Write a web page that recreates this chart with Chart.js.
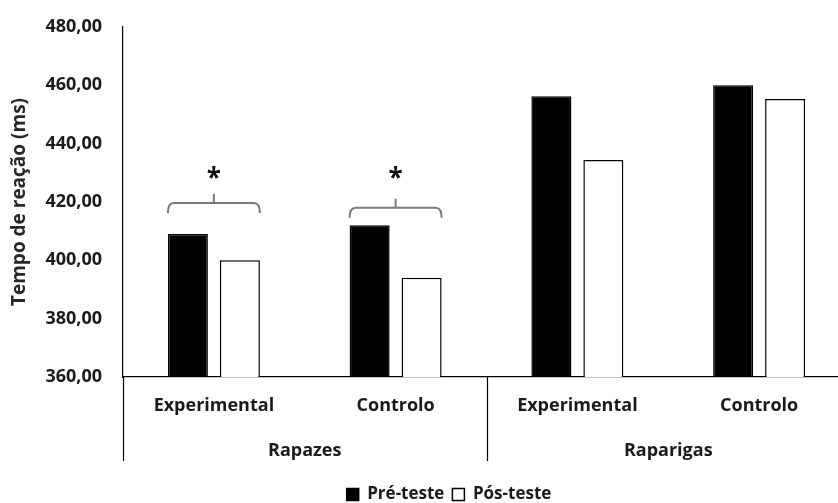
<!DOCTYPE html>
<html>
<head>
<meta charset="utf-8">
<script src="https://cdn.jsdelivr.net/npm/chart.js@4.4.1/dist/chart.umd.min.js"></script>
<style>
  html, body { margin: 0; padding: 0; overflow: hidden; background: #fff; }
  #wrap { width: 850px; height: 503px; }
</style>
</head>
<body>
<div id="wrap"><canvas id="grafico"></canvas></div>
<script>
// dados
const categorias = ["Experimental", "Controlo", "Experimental", "Controlo"];
const grupos = ["Rapazes", "Raparigas"];
const preTeste = [409, 412, 456.3, 460];
const posTeste = [400, 394, 434.4, 455.3];
const yTicks = [360, 380, 400, 420, 440, 460, 480];

// chavetas de significância (índice da categoria, nível da chaveta, nível do asterisco)
const signifIndices = [0, 1];
const nivelChaveta = [419.7, 418];
const nivelAsterisco = [429.5, 429.5];

const fonte = "'Open Sans', 'Noto Sans', sans-serif";
const corTexto = "#1a1a1a";

const chaveta = {
  id: "chaveta",
  afterLayout(chart) {
    // legenda um pouco para a direita e para baixo, como no original
    const lg = chart.legend;
    lg.left += 24; lg.right += 24;
    lg.top += 10; lg.bottom += 10;
  },
  afterDraw(chart) {
    const { ctx, chartArea, scales } = chart;
    const x = scales.x, y = scales.y, x2 = scales.x2;
    ctx.save();

    // linhas separadoras do eixo em dois níveis
    const passo = x.getPixelForValue(1) - x.getPixelForValue(0);
    ctx.strokeStyle = "#000";
    ctx.lineWidth = 1.2;
    [0, 2, 4].forEach(i => {
      const px = Math.round(x.getPixelForValue(0) + (i - 0.5) * passo) + 0.5;
      ctx.beginPath();
      ctx.moveTo(px, chartArea.bottom);
      ctx.lineTo(px, x2.bottom - 7);
      ctx.stroke();
    });

    // chavetas e asteriscos
    const m0 = chart.getDatasetMeta(0), m1 = chart.getDatasetMeta(1);
    signifIndices.forEach((idx, k) => {
      const b0 = m0.data[idx], b1 = m1.data[idx];
      const x0 = b0.x - b0.width / 2, x1 = b1.x + b1.width / 2;
      const xm = (x0 + x1) / 2;
      const yb = y.getPixelForValue(nivelChaveta[k]);
      ctx.strokeStyle = "#7a7a7a";
      ctx.lineWidth = 2;
      ctx.beginPath();
      ctx.moveTo(x0, yb + 10);
      ctx.quadraticCurveTo(x0, yb, x0 + 6, yb);
      ctx.lineTo(x1 - 6, yb);
      ctx.quadraticCurveTo(x1, yb, x1, yb + 10);
      ctx.moveTo(xm, yb);
      ctx.lineTo(xm, yb - 9);
      ctx.stroke();

      ctx.fillStyle = "#111";
      ctx.font = "bold 26px " + fonte;
      ctx.textAlign = "center";
      ctx.textBaseline = "middle";
      ctx.fillText("*", xm, y.getPixelForValue(nivelAsterisco[k]) + 5);
    });
    ctx.restore();
  }
};

const ctx = document.getElementById("grafico").getContext("2d");
const grafico = new Chart(ctx, {
  type: "bar",
  data: {
    labels: categorias,
    datasets: [
      {
        label: "Pré-teste",
        data: preTeste,
        backgroundColor: "#000",
        borderColor: "#000",
        borderWidth: 1.5,
        xAxisID: "x",
      },
      {
        label: "Pós-teste",
        data: posTeste,
        backgroundColor: "#fff",
        borderColor: "#000",
        borderWidth: 1.5,
        xAxisID: "x",
      },
    ],
  },
  options: {
    responsive: true,
    maintainAspectRatio: false,
    animation: false,
    barPercentage: 0.77,
    categoryPercentage: 0.572,
    layout: { padding: { top: 27, left: 0, right: 0, bottom: 0 } },
    plugins: {
      tooltip: { enabled: false },
      legend: {
        position: "bottom",
        labels: {
          color: corTexto,
          boxWidth: 12,
          boxHeight: 12,
          padding: 8,
          font: { family: fonte, size: 17, weight: "bold" },
        },
      },
    },
    scales: {
      x: {
        type: "category",
        labels: categorias,
        grid: { display: false },
        border: { display: true, color: "#000", width: 1.2 },
        ticks: {
          color: corTexto,
          padding: 10,
          maxRotation: 0,
          autoSkip: false,
          font: { family: fonte, size: 18, weight: "bold" },
        },
        afterFit(s) { s.height = 51; },
      },
      x2: {
        type: "category",
        position: "bottom",
        labels: grupos,
        offset: true,
        grid: { display: false },
        border: { display: false },
        ticks: {
          color: corTexto,
          padding: 4,
          maxRotation: 0,
          font: { family: fonte, size: 18, weight: "bold" },
        },
        afterFit(s) { s.height = 40; },
      },
      y: {
        min: 360,
        max: 480,
        grid: { display: false },
        border: { display: true, color: "#000", width: 1.2 },
        afterBuildTicks(s) { s.ticks = yTicks.map(v => ({ value: v })); },
        ticks: {
          color: corTexto,
          padding: 13,
          font: { family: fonte, size: 18, weight: "bold" },
          callback: v => v.toFixed(2).replace(".", ","),
        },
        title: {
          display: true,
          text: "Tempo de reação (ms)",
          color: "#262626",
          padding: { top: 8, bottom: 0 },
          font: { family: fonte, size: 19, weight: "bold" },
        },
        afterFit(s) { s.width = 123; },
      },
    },
  },
  plugins: [chaveta],
});
</script>
</body>
</html>
